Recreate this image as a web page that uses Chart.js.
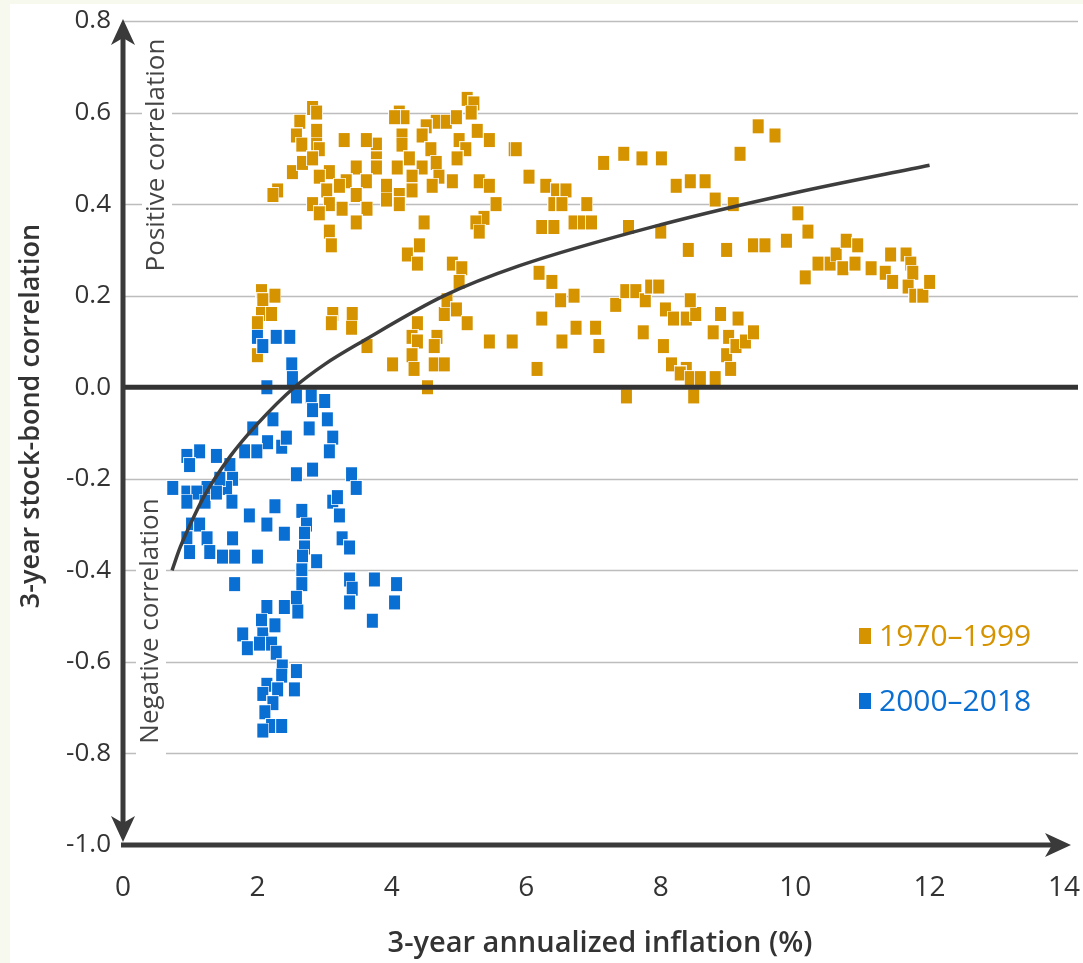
<!DOCTYPE html>
<html>
<head>
<meta charset="utf-8">
<title>Stock-bond correlation vs inflation</title>
<script src="https://cdn.jsdelivr.net/npm/chart.js@4.4.1/dist/chart.umd.min.js"></script>
<style>
    html, body { margin: 0; padding: 0; background: #f7f9ef; }
    #wrap { width: 1083px; height: 963px; position: relative; }
</style>
</head>
<body>
<div id="wrap"><canvas id="chart"></canvas></div>
<script>
// Axis ticks
const xTicks = [0, 2, 4, 6, 8, 10, 12, 14];
const xTickLabels = ['0', '2', '4', '6', '8', '10', '12', '14'];
const yTicks = [-1.0, -0.8, -0.6, -0.4, -0.2, 0.0, 0.2, 0.4, 0.6, 0.8];
const yTickLabels = ['-1.0', '-0.8', '-0.6', '-0.4', '-0.2', '0.0', '0.2', '0.4', '0.6', '0.8'];

// 1970-1999: 3-year inflation (%) and 3-year stock-bond correlation
const goldX = [
    5.12, 5.22, 5.18, 4.11, 4.18, 4.04, 2.82, 2.88, 4.66, 4.81, 4.96, 4.51, 2.63, 2.58, 2.88, 5.27,
    3.29, 4.15, 4.45, 5.00, 5.45, 5.82, 2.88, 2.66, 3.77, 3.62, 4.15, 4.58, 5.10, 2.92, 3.77, 4.26,
    4.66, 4.97, 2.52, 2.67, 2.82, 3.07, 3.47, 3.77, 4.08, 4.45, 2.92, 3.32, 3.62, 3.92, 4.30, 4.70,
    4.90, 5.30, 5.45, 2.30, 2.23, 3.03, 3.22, 3.47, 4.11, 4.30, 4.60, 2.82, 3.07, 3.26, 3.63, 3.92,
    4.11, 5.55, 5.37, 5.25, 5.30, 2.92, 3.07, 3.10, 3.47, 4.48,
    4.23, 4.41, 4.38, 4.90, 5.04, 5.00,
    2.06, 2.26, 2.08, 2.06, 2.21, 2.00, 2.00, 3.12, 3.10, 3.41, 3.40, 3.63, 4.01, 4.38, 4.30, 4.38,
    4.30, 4.33, 4.67, 4.63, 4.63, 4.78, 4.78, 4.82, 4.96, 5.12, 5.45, 5.79, 4.53,
    5.85, 6.04, 6.29, 6.45, 6.59, 6.41, 6.53, 6.90, 6.23, 6.41, 6.71, 6.85, 6.97, 7.52, 8.00, 8.41,
    8.98, 9.38, 9.55, 9.87, 10.04, 10.19, 7.15, 7.45, 7.72, 8.01, 8.23, 8.44, 8.66, 8.81, 9.08, 9.18,
    9.45, 9.70,
    10.15, 10.34, 10.52, 10.61, 10.76, 10.93, 10.71, 10.89, 11.13, 11.34, 11.42, 11.65, 11.72, 11.75,
    11.45, 11.68, 11.78, 11.90, 12.00,
    6.19, 6.38, 6.51, 6.71, 6.23, 6.74, 7.03, 7.08, 6.53, 6.16, 7.33, 7.48, 7.63, 7.77, 7.85, 7.97,
    8.07, 8.19, 8.38, 8.52, 8.44, 7.74, 8.04, 8.16, 8.38, 8.29, 8.44, 8.59, 8.81, 8.89, 9.15, 8.78,
    9.01, 8.98, 9.04, 9.12, 9.26, 9.38, 7.49, 8.49
];
const goldY = [
    0.63, 0.62, 0.60, 0.60, 0.59, 0.59, 0.61, 0.60, 0.58, 0.58, 0.59, 0.57, 0.58, 0.55, 0.56, 0.56,
    0.54, 0.55, 0.55, 0.54, 0.54, 0.52, 0.53, 0.53, 0.53, 0.54, 0.53, 0.52, 0.52, 0.52, 0.50, 0.50,
    0.49, 0.50, 0.47, 0.49, 0.50, 0.47, 0.48, 0.48, 0.48, 0.48, 0.46, 0.45, 0.45, 0.44, 0.46, 0.46,
    0.45, 0.45, 0.44, 0.43, 0.42, 0.43, 0.44, 0.42, 0.42, 0.43, 0.44, 0.40, 0.40, 0.39, 0.39, 0.41,
    0.40, 0.40, 0.37, 0.36, 0.34, 0.38, 0.34, 0.31, 0.36, 0.36,
    0.29, 0.31, 0.27, 0.27, 0.26, 0.23,
    0.21, 0.20, 0.19, 0.16, 0.16, 0.14, 0.07, 0.16, 0.14, 0.16, 0.13, 0.09, 0.05, 0.14, 0.11, 0.10,
    0.07, 0.04, 0.11, 0.09, 0.05, 0.05, 0.16, 0.19, 0.17, 0.14, 0.10, 0.10, 0.00,
    0.52, 0.46, 0.44, 0.43, 0.43, 0.40, 0.40, 0.40, 0.35, 0.35, 0.36, 0.36, 0.36, 0.35, 0.34, 0.30,
    0.30, 0.31, 0.31, 0.32, 0.38, 0.34, 0.49, 0.51, 0.50, 0.50, 0.44, 0.45, 0.45, 0.41, 0.40, 0.51,
    0.57, 0.55,
    0.24, 0.27, 0.27, 0.29, 0.32, 0.31, 0.26, 0.27, 0.26, 0.25, 0.29, 0.29, 0.27, 0.25,
    0.23, 0.22, 0.20, 0.20, 0.23,
    0.25, 0.23, 0.19, 0.20, 0.15, 0.13, 0.13, 0.09, 0.10, 0.04, 0.18, 0.21, 0.21, 0.19, 0.22, 0.22,
    0.17, 0.15, 0.15, 0.16, 0.19, 0.12, 0.09, 0.05, 0.04, 0.03, 0.02, 0.02, 0.02, 0.16, 0.15, 0.12,
    0.11, 0.07, 0.04, 0.09, 0.10, 0.12, -0.02, -0.02
];

// 2000-2018
const blueX = [
    2.00, 2.08, 2.28, 2.48, 2.51, 2.52, 2.14, 2.58, 2.80, 3.00, 2.82, 3.04, 3.12, 2.77, 3.07, 2.82,
    2.58, 2.23, 1.93, 2.15, 2.36, 2.43, 1.81, 1.99, 1.14, 1.39, 0.95, 0.99, 1.59, 1.63, 1.54, 1.44,
    1.25, 0.74, 0.95, 1.10, 1.22, 0.95, 1.39, 1.62, 1.02, 1.14, 1.25, 0.95, 0.99, 1.29, 1.48, 1.66,
    1.66, 1.63, 2.00, 1.88, 2.14, 2.26, 2.40, 2.66, 2.73, 2.70, 2.70, 2.67, 2.88, 2.66, 2.66, 2.58,
    2.60, 2.40, 2.14, 2.06, 2.08, 2.26, 1.78, 1.85, 2.03, 2.21, 2.28, 2.37, 2.58, 2.36, 2.14, 2.55,
    2.30, 2.08, 2.23, 2.11, 2.21, 2.08, 2.36,
    3.12, 3.22, 3.19, 3.40, 3.47, 3.26, 3.37, 3.37, 3.41, 3.37, 3.74, 4.07, 4.04, 3.71
];
const blueY = [
    0.11, 0.09, 0.11, 0.11, 0.05, 0.02, 0.00, -0.02, -0.02, -0.03, -0.05, -0.07, -0.11, -0.09, -0.14, -0.18,
    -0.19, -0.07, -0.09, -0.12, -0.13, -0.11, -0.14, -0.14, -0.14, -0.15, -0.15, -0.17, -0.17, -0.20, -0.22, -0.20,
    -0.22, -0.22, -0.23, -0.23, -0.25, -0.25, -0.23, -0.25, -0.30, -0.30, -0.33, -0.33, -0.36, -0.36, -0.37, -0.37,
    -0.43, -0.33, -0.37, -0.28, -0.30, -0.26, -0.32, -0.27, -0.30, -0.32, -0.35, -0.37, -0.38, -0.40, -0.43, -0.46,
    -0.49, -0.48, -0.48, -0.51, -0.54, -0.52, -0.54, -0.57, -0.56, -0.56, -0.58, -0.61, -0.62, -0.63, -0.65, -0.66,
    -0.66, -0.67, -0.69, -0.71, -0.74, -0.75, -0.74,
    -0.25, -0.28, -0.24, -0.19, -0.22, -0.33, -0.35, -0.42, -0.44, -0.47, -0.42, -0.43, -0.47, -0.51
];

// Fitted curve
const fitX = [0.73, 0.85, 1.0, 1.2, 1.6, 2.0, 2.55, 3.0, 3.56, 4.78, 5.89, 8, 10, 12];
const fitY = [-0.40, -0.35, -0.30, -0.24, -0.15, -0.08, 0.0, 0.05, 0.10, 0.20, 0.265, 0.355, 0.425, 0.485];

const GOLD = '#d69300';
const BLUE = '#0a6fd3';
const DARK = '#3a3a3a';
const FONT = "'Open Sans', 'Noto Sans', sans-serif";

function toPoints(xs, ys) {
    return xs.map((x, i) => ({ x: x, y: ys[i] }));
}

// Tall square marker with a pale rim
function makeMarker(color) {
    const c = document.createElement('canvas');
    c.width = 13;
    c.height = 16;
    const g = c.getContext('2d');
    g.fillStyle = 'rgba(255,255,255,0.85)';
    g.fillRect(0, 0, 13, 16);
    g.fillStyle = color;
    g.fillRect(1, 1, 11, 14);
    return c;
}

function rotatedText(ctx, text, x, y, font, color) {
    ctx.save();
    ctx.translate(x, y);
    ctx.rotate(-Math.PI / 2);
    ctx.font = font;
    ctx.fillStyle = color;
    ctx.textAlign = 'center';
    ctx.textBaseline = 'middle';
    ctx.fillText(text, 0, 0);
    ctx.restore();
}

function arrowHead(ctx, tipX, tipY, dir) {
    // dir: 'up', 'down', 'right'
    const len = 26, half = 12, notch = 7;
    ctx.beginPath();
    if (dir === 'up') {
        ctx.moveTo(tipX, tipY);
        ctx.lineTo(tipX + half, tipY + len);
        ctx.lineTo(tipX, tipY + len - notch);
        ctx.lineTo(tipX - half, tipY + len);
    } else if (dir === 'down') {
        ctx.moveTo(tipX, tipY);
        ctx.lineTo(tipX + half, tipY - len);
        ctx.lineTo(tipX, tipY - len + notch);
        ctx.lineTo(tipX - half, tipY - len);
    } else {
        ctx.moveTo(tipX, tipY);
        ctx.lineTo(tipX - len, tipY - half);
        ctx.lineTo(tipX - len + notch, tipY);
        ctx.lineTo(tipX - len, tipY + half);
    }
    ctx.closePath();
    ctx.fill();
}

const decorPlugin = {
    id: 'decor',
    beforeDraw(chart) {
        const ctx = chart.ctx;
        ctx.save();
        ctx.fillStyle = '#f7f9ef';
        ctx.fillRect(0, 0, chart.width, chart.height);
        ctx.fillStyle = '#ffffff';
        ctx.fillRect(10, 4, chart.width - 10, chart.height - 4);
        ctx.restore();
    },
    beforeDatasetsDraw(chart) {
        const ctx = chart.ctx;
        const y = chart.scales.y;
        const area = chart.chartArea;
        ctx.save();
        // horizontal gridlines
        ctx.strokeStyle = '#bdbdbd';
        ctx.lineWidth = 1.5;
        yTicks.forEach(v => {
            if (v === 0 || v === -1) return;
            const py = Math.round(y.getPixelForValue(v)) + 0.5;
            ctx.beginPath();
            ctx.moveTo(area.left, py);
            ctx.lineTo(1078, py);
            ctx.stroke();
        });
        // side notes on white boxes
        ctx.fillStyle = '#ffffff';
        ctx.fillRect(142, 28, 30, 254);
        ctx.fillRect(136, 484, 30, 272);
        rotatedText(ctx, 'Positive correlation', 157, 155, '26px ' + FONT, '#444444');
        rotatedText(ctx, 'Negative correlation', 151, 621, '26px ' + FONT, '#444444');
        ctx.restore();
    },
    afterDatasetsDraw(chart) {
        const ctx = chart.ctx;
        const x = chart.scales.x;
        const y = chart.scales.y;
        const left = x.getPixelForValue(0);
        const zeroY = y.getPixelForValue(0);
        const bottomY = y.getPixelForValue(-1);
        const topY = y.getPixelForValue(0.8);
        ctx.save();
        // zero line
        ctx.strokeStyle = '#333333';
        ctx.lineWidth = 5;
        ctx.beginPath();
        ctx.moveTo(left, zeroY);
        ctx.lineTo(1078, zeroY);
        ctx.stroke();
        // axes with arrows
        ctx.strokeStyle = DARK;
        ctx.fillStyle = DARK;
        ctx.lineWidth = 5;
        ctx.beginPath();
        ctx.moveTo(left, topY + 10);
        ctx.lineTo(left, bottomY - 10);
        ctx.stroke();
        arrowHead(ctx, left, topY - 2, 'up');
        arrowHead(ctx, left, bottomY - 3, 'down');
        ctx.beginPath();
        ctx.moveTo(left - 2, bottomY);
        ctx.lineTo(1058, bottomY);
        ctx.stroke();
        arrowHead(ctx, 1071, bottomY, 'right');

        // axis titles
        rotatedText(ctx, '3-year stock-bond correlation', 31, 416, '600 27px ' + FONT, '#333333');
        ctx.font = '600 29px ' + FONT;
        ctx.fillStyle = '#333333';
        ctx.textAlign = 'center';
        ctx.textBaseline = 'middle';
        ctx.fillText('3-year annualized inflation (%)', 600, 944);

        // legend
        const legend = [
            { label: '1970\u20131999', color: GOLD, cy: 636 },
            { label: '2000\u20132018', color: BLUE, cy: 701 }
        ];
        legend.forEach(item => {
            ctx.fillStyle = item.color;
            ctx.fillRect(859, item.cy - 8, 12, 16);
            ctx.font = '30px ' + FONT;
            ctx.textAlign = 'left';
            ctx.textBaseline = 'middle';
            ctx.fillText(item.label, 879, item.cy + 1);
        });
        ctx.restore();
    }
};

const ctx = document.getElementById('chart').getContext('2d');
const chart = new Chart(ctx, {
    type: 'scatter',
    data: {
        datasets: [
            {
                label: 'Fit',
                data: toPoints(fitX, fitY),
                showLine: true,
                borderColor: '#3d3d3d',
                borderWidth: 3.5,
                pointRadius: 0,
                cubicInterpolationMode: 'monotone',
                order: 0
            },
            {
                label: '2000\u20132018',
                data: toPoints(blueX, blueY),
                pointStyle: makeMarker(BLUE),
                pointRadius: 7,
                order: 1
            },
            {
                label: '1970\u20131999',
                data: toPoints(goldX, goldY),
                pointStyle: makeMarker(GOLD),
                pointRadius: 7,
                order: 2
            }
        ]
    },
    options: {
        responsive: true,
        maintainAspectRatio: false,
        animation: false,
        events: [],
        layout: {
            padding: { top: 21, right: 19, left: 0, bottom: 0 }
        },
        plugins: {
            legend: { display: false },
            tooltip: { enabled: false }
        },
        scales: {
            x: {
                type: 'linear',
                min: 0,
                max: 14,
                afterBuildTicks: scale => { scale.ticks = xTicks.map(v => ({ value: v })); },
                afterFit: scale => {
                    scale.height = 118;
                    scale.paddingLeft = 0;
                    scale.paddingRight = 0;
                },
                grid: { display: false, drawTicks: false },
                border: { display: false },
                ticks: {
                    autoSkip: false,
                    maxRotation: 0,
                    padding: 26,
                    color: '#333333',
                    font: { family: FONT, size: 28 },
                    callback: (v, i) => xTickLabels[i]
                }
            },
            y: {
                type: 'linear',
                min: -1,
                max: 0.8,
                afterBuildTicks: scale => { scale.ticks = yTicks.map(v => ({ value: v })); },
                afterFit: scale => {
                    scale.width = 123;
                    scale.paddingTop = 0;
                    scale.paddingBottom = 0;
                },
                grid: { display: false, drawTicks: false },
                border: { display: false },
                ticks: {
                    autoSkip: false,
                    padding: 12,
                    color: '#333333',
                    font: { family: FONT, size: 26 },
                    callback: (v, i) => yTickLabels[i]
                }
            }
        }
    },
    plugins: [decorPlugin]
});
</script>
</body>
</html>
